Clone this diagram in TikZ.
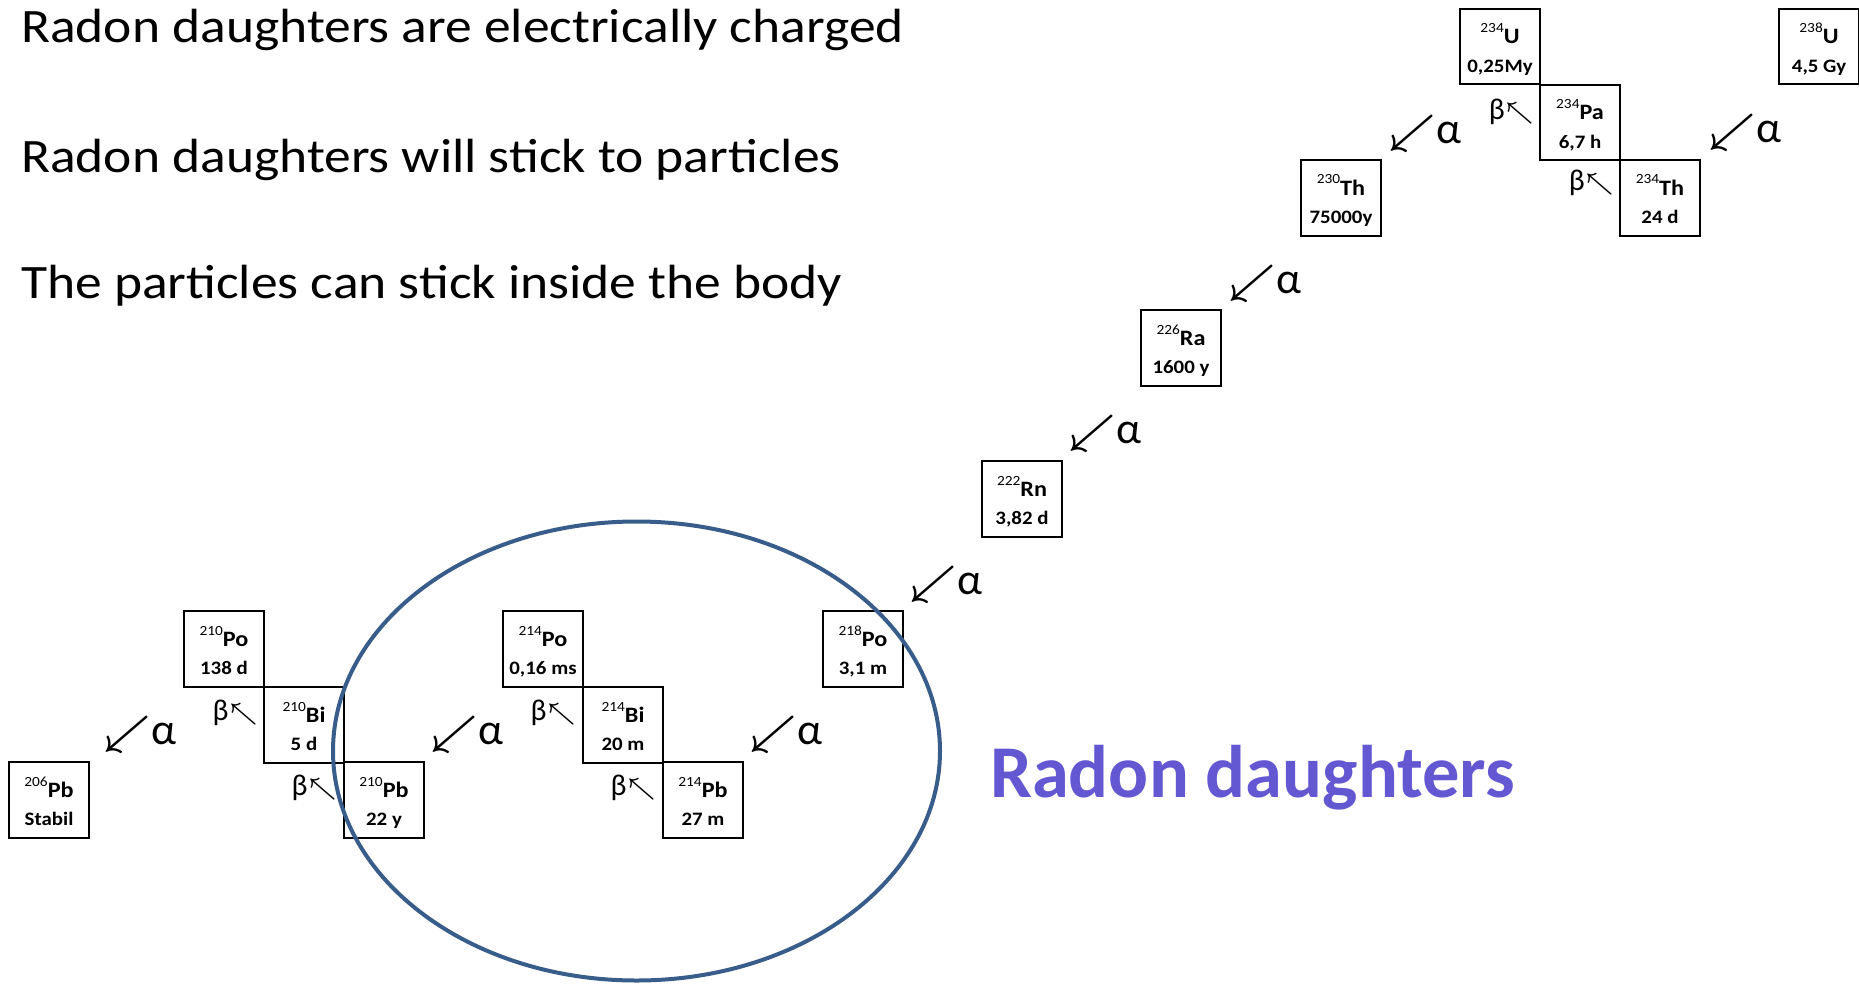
\documentclass[tikz,border=0pt]{standalone}
\usepackage{graphicx}
\usepackage{fontspec}
\usetikzlibrary{shapes.geometric}
\setmainfont{Carlito}
\newfontfamily\calstr[FakeStretch=1.115]{Carlito}
\newfontfamily\calbox[FakeStretch=1.1]{Carlito}
\newfontfamily\calplain{Carlito}
\definecolor{ringblue}{RGB}{56,93,138}
\definecolor{labelpurple}{RGB}{100,88,210}
\newcommand\alphalab{\scalebox{4.1}{\boldmath$\swarrow$}{\calplain\fontsize{44}{44}\selectfont α}}
\newcommand\betalab{{\calplain\fontsize{30}{30}\selectfont β}\hspace{1pt}\scalebox{2.4}{\boldmath$\nwarrow$}}
\newcommand\nuclide[6]{%
  \node[nucbox] (#1) at (#2,#3) {};
  \node[symtext] (#1-sym) at ([yshift=-35pt]#1.north) {\raisebox{11pt}{\massfont #4}#5};
  \node[lifetext] (#1-life) at ([yshift=-63.5pt]#1.north) {#6};
}
\newcommand\massfont{\calbox\mdseries\fontsize{14}{14}\selectfont}
\begin{document}
\begin{tikzpicture}[x=1pt,y=-1pt,
  nucbox/.style={draw, line width=2pt, minimum width=80pt, minimum height=75.5pt, inner sep=0pt, outer sep=0pt, anchor=north west},
  symtext/.style={anchor=base, inner sep=0pt, font=\calbox\bfseries\fontsize{22}{22}\selectfont},
  lifetext/.style={anchor=base, inner sep=0pt, font=\calbox\bfseries\fontsize{19}{19}\selectfont},
  alab/.style={inner sep=0pt, anchor=center},
  blab/.style={inner sep=0pt, anchor=center},
  bodytext/.style={anchor=base west, inner sep=0pt, font=\calstr\fontsize{48}{48}\selectfont},
  ring/.style={draw=ringblue, line width=4pt, ellipse, minimum width=607pt, minimum height=459pt, inner sep=0pt}
]
\useasboundingbox (0,0) rectangle (1859,987);

% statements
\node[bodytext] (t1) at (21,43) {Radon daughters are electrically charged};
\node[bodytext] (t2) at (21,173) {Radon daughters will stick to particles};
\node[bodytext] (t3) at (21,298) {The particles can stick inside the body};

% nuclides
\nuclide{u238}{1779}{9}{238}{U}{4,5 Gy}
\nuclide{u234}{1460}{9}{234}{U}{0,25My}
\nuclide{pa234}{1540}{85}{234}{Pa}{6,7 h}
\nuclide{th234}{1620}{160}{234}{Th}{24 d}
\nuclide{th230}{1301}{160}{230}{Th}{75000y}
\nuclide{ra226}{1141}{310}{226}{Ra}{1600 y}
\nuclide{rn222}{982}{461}{222}{Rn}{3,82 d}
\nuclide{po218}{823}{611}{218}{Po}{3,1 m}
\nuclide{po214}{503}{611}{214}{Po}{0,16 ms}
\nuclide{bi214}{583}{687}{214}{Bi}{20 m}
\nuclide{pb214}{663}{762}{214}{Pb}{27 m}
\nuclide{po210}{184}{611}{210}{Po}{138 d}
\nuclide{bi210}{264}{687}{210}{Bi}{5 d}
\nuclide{pb210}{344}{762}{210}{Pb}{22 y}
\nuclide{pb206}{9}{762}{206}{Pb}{Stabil}

% alpha decays
\node[alab] (a1) at (1745,132) {\alphalab};
\node[alab] (a2) at (1425,133) {\alphalab};
\node[alab] (a3) at (1265,283) {\alphalab};
\node[alab] (a4) at (1105,433) {\alphalab};
\node[alab] (a5) at (946,584) {\alphalab};
\node[alab] (a6) at (786,734) {\alphalab};
\node[alab] (a7) at (467,734) {\alphalab};
\node[alab] (a8) at (140,734) {\alphalab};

% beta decays
\node[blab] (b1) at (1591,183) {\betalab};
\node[blab] (b2) at (1511,112) {\betalab};
\node[blab] (b3) at (633,788) {\betalab};
\node[blab] (b4) at (553,713) {\betalab};
\node[blab] (b5) at (314,788) {\betalab};
\node[blab] (b6) at (235,713) {\betalab};

% highlight
\node[ring] (ring) at (636.5,751) {};
\node[anchor=base west, inner sep=0pt, text=labelpurple, font=\calplain\bfseries\fontsize{74.5}{74.5}\selectfont] (rd) at (990,797) {Radon daughters};
\end{tikzpicture}
\end{document}
